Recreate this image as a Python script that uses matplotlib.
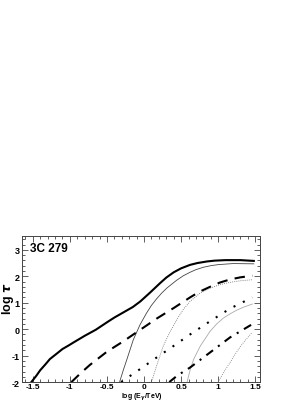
import matplotlib
matplotlib.use('Agg')
import matplotlib.pyplot as plt
from matplotlib.ticker import MultipleLocator, FormatStrFormatter

plt.rcParams['font.family'] = ['Liberation Sans', 'DejaVu Sans']
plt.rcParams['font.weight'] = 'bold'
plt.rcParams['axes.unicode_minus'] = False

# curves (log E, log tau)
total_x = [-1.52, -1.45, -1.4, -1.33, -1.27, -1.18, -1.1, -1.02, -0.95, -0.8, -0.65, -0.5,
           -0.4, -0.3, -0.15, -0.05, 0.08, 0.22, 0.3, 0.4, 0.5, 0.62, 0.72, 0.85,
           0.95, 1.1, 1.3, 1.48]
total_y = [-2.0, -1.75, -1.55, -1.33, -1.13, -0.93, -0.75, -0.62, -0.5, -0.25, -0.02, 0.26,
           0.44, 0.6, 0.84, 1.05, 1.38, 1.75, 1.95, 2.15, 2.3, 2.43, 2.5, 2.56,
           2.59, 2.61, 2.61, 2.58]
thin1_x = [-0.33, -0.28, -0.23, -0.145, -0.054, 0.036, 0.1, 0.17, 0.24, 0.31, 0.44, 0.53,
           0.62, 0.7, 0.8, 0.9, 1.0, 1.2, 1.48]
thin1_y = [-2.0, -1.55, -1.13, -0.4, 0.17, 0.62, 0.9, 1.15, 1.37, 1.56, 1.85, 2.02,
           2.15, 2.25, 2.34, 2.4, 2.44, 2.48, 2.47]
dash_x = [-0.98, -0.85, -0.73, -0.5, -0.28, -0.05, 0.17, 0.4, 0.62, 0.75, 0.89, 1.02, 1.16,
          1.3, 1.46]
dash_y = [-2.0, -1.65, -1.35, -0.85, -0.46, -0.02, 0.4, 0.8, 1.2, 1.42, 1.6, 1.76, 1.88,
          1.96, 2.02]
thin2_x = [0.1, 0.17, 0.26, 0.35, 0.45, 0.53, 0.62, 0.75, 0.89, 1.02, 1.16, 1.3, 1.46]
thin2_y = [-2.0, -1.38, -0.63, -0.1, 0.4, 0.75, 1.05, 1.35, 1.55, 1.68, 1.77, 1.83, 1.87]
dot_x = [-0.31, -0.054, 0.17, 0.4, 0.62, 0.89, 1.16, 1.46]
dot_y = [-2.0, -1.51, -1.07, -0.63, -0.2, 0.3, 0.78, 1.2]
thin3_x = [0.58, 0.62, 0.67, 0.76, 0.89, 0.98, 1.07, 1.16, 1.25, 1.35, 1.46]
thin3_y = [-2.0, -1.55, -1.13, -0.63, -0.08, 0.2, 0.42, 0.58, 0.72, 0.84, 0.95]
dd_x = [0.34, 0.45, 0.62, 0.89, 1.16, 1.46]
dd_y = [-2.0, -1.75, -1.45, -0.88, -0.31, 0.19]
thin4_x = [1.0, 1.08, 1.16, 1.23, 1.3, 1.38, 1.46]
thin4_y = [-2.0, -1.6, -1.26, -0.94, -0.65, -0.37, -0.12]

fig = plt.figure(figsize=(2.93, 4.02), dpi=100)
ax = fig.add_axes([0.074, 0.047, 0.815, 0.364])

ax.plot(total_x, total_y, color='black', lw=1.5)
ax.plot(thin1_x, thin1_y, color='#444444', lw=0.6)
ax.plot(dash_x, dash_y, color='black', lw=1.5, dashes=(5, 3.5))
ax.plot(thin2_x, thin2_y, color='#666666', lw=0.6, dashes=(1, 1.5))
ax.plot(dot_x, dot_y, color='black', lw=1.5, dashes=(1, 4))
ax.plot(thin3_x, thin3_y, color='#aaaaaa', lw=0.6)
ax.plot(dd_x, dd_y, color='black', lw=1.5, dashes=(4, 3, 1, 3))
ax.plot(thin4_x, thin4_y, color='#777777', lw=0.6, dashes=(1, 1.5))

ax.set_xlim(-1.65, 1.57)
ax.set_ylim(-2, 3.53)
ax.xaxis.set_major_locator(MultipleLocator(0.5))
ax.xaxis.set_minor_locator(MultipleLocator(0.1))
ax.xaxis.set_major_formatter(FormatStrFormatter('%g'))
ax.yaxis.set_major_locator(MultipleLocator(1))
ax.yaxis.set_minor_locator(MultipleLocator(0.2))
ax.tick_params(which='both', direction='in', top=True, right=True,
               labelsize=6.5, pad=1.5, width=0.6, color='#444444')
ax.tick_params(axis='x', pad=1, labelsize=6)
ax.tick_params(which='major', length=4)
ax.tick_params(which='minor', length=2)
for s in ax.spines.values():
    s.set_linewidth(0.7)
    s.set_color('#444444')

ax.text(0.035, 0.96, '3C 279', transform=ax.transAxes, fontsize=8.5,
        fontweight='bold', va='top', ha='left')
ax.set_ylabel(r'log $\tau$', fontsize=9, fontweight='bold', va='center')
ax.yaxis.set_label_coords(-0.058, 0.58)
ax.set_xlabel(r'log (E$_{\gamma}$/TeV)', fontsize=5, fontweight='bold', va='top')
ax.xaxis.set_label_coords(0.505, -0.057)

fig.savefig('out.png', dpi=100)
